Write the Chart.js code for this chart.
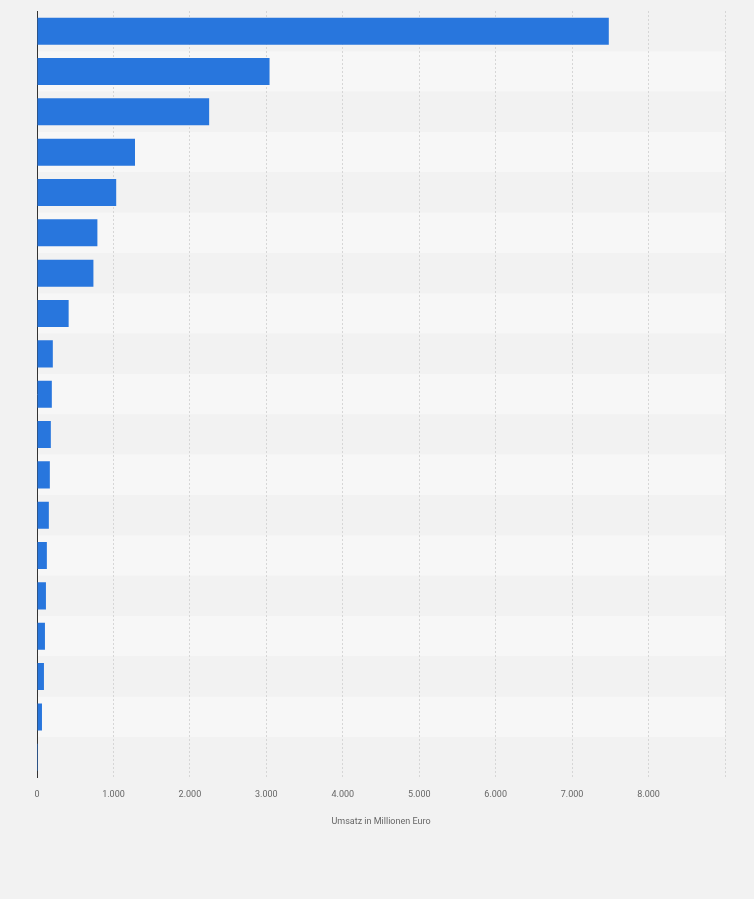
<!DOCTYPE html>
<html><head><meta charset="utf-8">
<script src="https://cdn.jsdelivr.net/npm/chart.js@4"></script>
<style>html,body{margin:0;background:#f2f2f2}#wrap{width:754px;height:899px}</style>
</head><body><div id="wrap"><canvas id="c"></canvas></div>
<script>
// Umsatz in Millionen Euro, ranked (category names not shown in the source)
const categories = ['1','2','3','4','5','6','7','8','9','10','11','12','13','14','15','16','17','18','19'];
const revenue = [7480, 3042, 2252, 1282, 1036, 790, 738, 414, 207, 194, 181, 168, 155, 129, 117, 104, 91, 65, 13];
const tickValues = [0, 1000, 2000, 3000, 4000, 5000, 6000, 7000, 8000, 9000];

// alternating row bands behind the bars
const rowBands = {
    id: 'rowBands',
    beforeDraw(chart) {
        const { ctx, chartArea: a, scales: { y } } = chart;
        const step = (a.bottom - a.top) / categories.length;
        ctx.save();
        categories.forEach((c, i) => {
            ctx.fillStyle = i % 2 ? '#f7f7f7' : '#f2f2f2';
            const mid = y.getPixelForValue(i);
            ctx.fillRect(a.left, mid - step / 2, a.right - a.left, step);
        });
        ctx.restore();
    }
};

new Chart(document.getElementById('c'), {
    type: 'bar',
    data: {
        labels: categories,
        datasets: [{ data: revenue, backgroundColor: '#2876dd', categoryPercentage: 0.67, barPercentage: 1 }]
    },
    options: {
        indexAxis: 'y',
        responsive: true,
        maintainAspectRatio: false,
        animation: false,
        layout: { padding: { left: 29, right: 29, top: 11, bottom: 68 } },
        plugins: { legend: { display: false }, tooltip: { enabled: false } },
        scales: {
            x: {
                min: 0, max: 9000,
                afterBuildTicks: s => { s.ticks = tickValues.map(v => ({ value: v })); },
                grid: { color: '#d6d6d6', borderDash: [2, 2], drawTicks: false },
                border: { display: false, dash: [2, 2] },
                ticks: {
                    padding: 12,
                    color: '#666',
                    font: { family: 'Roboto', size: 9 },
                    callback: v => v === 9000 ? '' : v.toLocaleString('de-DE')
                },
                title: { display: true, text: 'Umsatz in Millionen Euro', color: '#666', font: { family: 'Roboto', size: 9 }, padding: { top: 4 } }
            },
            y: {
                ticks: { display: false },
                grid: { display: false },
                border: { display: true, color: '#333', width: 1 }
            }
        }
    },
    plugins: [rowBands]
});
</script></body></html>
